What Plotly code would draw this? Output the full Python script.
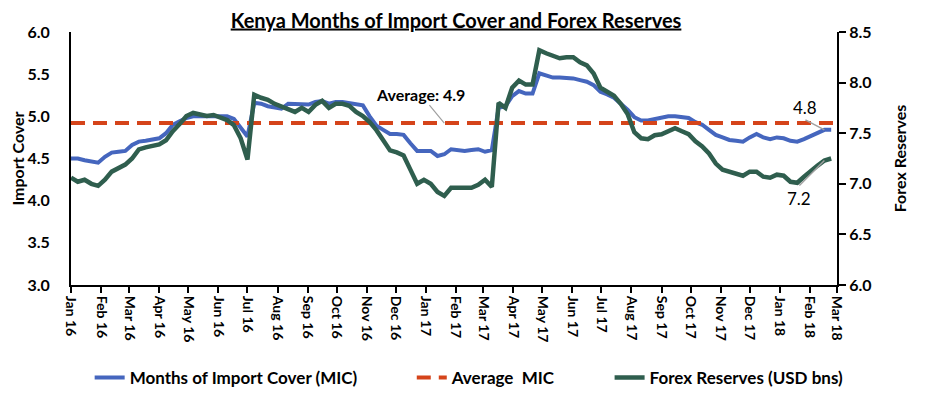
import pandas as pd
import plotly.graph_objects as go

# weekly observation dates
dates = pd.date_range("2016-01-01", periods=113, freq="7D")

mic = [4.50, 4.50, 4.48, 4.46, 4.45, 4.52, 4.57, 4.58, 4.59, 4.66,
       4.70, 4.71, 4.73, 4.74, 4.80, 4.90, 4.94, 4.98, 5.00, 5.00,
       5.00, 5.00, 5.00, 5.00, 4.97, 4.86, 4.76, 5.16, 5.15, 5.12,
       5.10, 5.09, 5.15, 5.15, 5.14, 5.14, 5.17, 5.18, 5.15, 5.17,
       5.17, 5.16, 5.15, 5.13, 5.00, 4.89, 4.84, 4.79, 4.79, 4.78,
       4.68, 4.59, 4.59, 4.59, 4.53, 4.55, 4.61, 4.60, 4.59, 4.60,
       4.61, 4.58, 4.60, 5.10, 5.12, 5.24, 5.30, 5.27, 5.27, 5.51,
       5.49, 5.46, 5.46, 5.46, 5.45, 5.43, 5.41, 5.37, 5.29, 5.26,
       5.22, 5.15, 5.08, 4.99, 4.95, 4.95, 4.97, 4.98, 5.00, 5.00,
       4.99, 4.98, 4.93, 4.90, 4.84, 4.78, 4.75, 4.72, 4.71, 4.70,
       4.75, 4.79, 4.75, 4.73, 4.75, 4.74, 4.71, 4.70, 4.73, 4.77,
       4.81, 4.84, 4.84]

forex = [7.06, 7.02, 7.04, 7.00, 6.98, 7.04, 7.12, 7.15, 7.19, 7.25,
         7.34, 7.36, 7.37, 7.39, 7.43, 7.52, 7.59, 7.67, 7.70, 7.69,
         7.67, 7.68, 7.66, 7.63, 7.58, 7.45, 7.24, 7.88, 7.85, 7.83,
         7.79, 7.76, 7.73, 7.71, 7.75, 7.71, 7.78, 7.82, 7.75, 7.79,
         7.79, 7.77, 7.71, 7.67, 7.61, 7.53, 7.43, 7.33, 7.31, 7.28,
         7.14, 7.00, 7.04, 7.00, 6.92, 6.88, 6.96, 6.96, 6.95, 6.96,
         6.99, 7.04, 6.97, 7.80, 7.75, 7.95, 8.02, 7.98, 7.98, 8.32,
         8.29, 8.26, 8.24, 8.25, 8.25, 8.20, 8.17, 8.09, 7.95, 7.91,
         7.87, 7.79, 7.69, 7.51, 7.45, 7.44, 7.48, 7.49, 7.52, 7.55,
         7.52, 7.49, 7.42, 7.37, 7.30, 7.20, 7.14, 7.12, 7.10, 7.08,
         7.12, 7.12, 7.07, 7.06, 7.09, 7.08, 7.02, 7.01, 7.07, 7.13,
         7.18, 7.23, 7.25]

avg_mic = 4.92
avg_dates = ["2016-01-01", "2018-03-01"]

month_ticks = pd.date_range("2016-01-01", "2018-03-01", freq="MS")
month_labels = [d.strftime("%b %y") for d in month_ticks]

FONT = "Lato"
BLUE = "#4566BE"
RED = "#D5441A"
GREEN = "#2F5E4E"

fig = go.Figure()
fig.add_trace(go.Scatter(x=dates, y=mic, mode="lines",
                         name="Months of Import Cover (MIC)" + "&nbsp;" * 12,
                         line=dict(color=BLUE, width=4)))
fig.add_trace(go.Scatter(x=avg_dates, y=[avg_mic, avg_mic], mode="lines",
                         name="Average&nbsp;&nbsp;MIC" + "&nbsp;" * 12,
                         line=dict(color=RED, width=4, dash="14px,8px")))
fig.add_trace(go.Scatter(x=dates, y=forex, mode="lines", name="Forex Reserves (USD bns)",
                         line=dict(color=GREEN, width=4.5), yaxis="y2"))

# annotations
fig.add_annotation(x=dates[55], y=avg_mic, xref="x", yref="y", text="<b>Average: 4.9</b>",
                   showarrow=True, arrowhead=0, arrowcolor="#A0A0A0", arrowwidth=1.2,
                   ax=-24, ay=-29, font=dict(family=FONT, size=16, color="black"),
                   xanchor="center", yanchor="middle")
fig.add_annotation(x=dates[111], y=mic[111], xref="x", yref="y", text="4.8",
                   showarrow=True, arrowhead=0, arrowcolor="#A0A0A0", arrowwidth=1.5,
                   ax=-19, ay=-10, font=dict(family=FONT, size=17, color="black"),
                   xanchor="center", yanchor="bottom")
fig.add_annotation(x=dates[111], y=forex[111], xref="x", yref="y2", text="7.2",
                   showarrow=True, arrowhead=0, arrowcolor="#A0A0A0", arrowwidth=1.5,
                   ax=-25, ay=25, font=dict(family=FONT, size=17, color="black"),
                   xanchor="center", yanchor="top")

fig.update_layout(
    width=928, height=390,
    margin=dict(l=63, r=99, t=24, b=113),
    paper_bgcolor="white", plot_bgcolor="white",
    font=dict(family=FONT, color="black"),
    title=dict(text="<b><u>Kenya Months of Import Cover and Forex Reserves</u></b>",
               x=0.4828, xanchor="center", xref="container", y=0.9679, yanchor="middle",
               yref="container", font=dict(family=FONT, size=20, color="black")),
    xaxis=dict(range=["2016-01-01", "2018-03-01"], tickvals=month_ticks, ticktext=month_labels,
               tickangle=90, ticks="outside", ticklen=6, tickcolor="black", tickwidth=1.5,
               showline=True, linecolor="black", linewidth=2, showgrid=False, zeroline=False,
               automargin=False,
               tickfont=dict(family=FONT, size=14, color="black", weight="bold")),
    yaxis=dict(range=[3.0, 6.0], dtick=0.5, tickformat=".1f", showline=True, linecolor="black",
               linewidth=2, ticks="", showgrid=False, zeroline=False, automargin=False,
               ticklabelstandoff=16,
               tickfont=dict(family=FONT, size=16, color="black", weight="bold"),
               title=dict(text="<b>Import Cover</b>", font=dict(family=FONT, size=16), standoff=4)),
    yaxis2=dict(range=[6.0, 8.5], dtick=0.5, tickformat=".1f", overlaying="y", side="right",
                showline=True, linecolor="black", linewidth=2, ticks="outside", ticklen=7,
                tickcolor="black", tickwidth=1.5, showgrid=False, zeroline=False, automargin=False,
                tickfont=dict(family=FONT, size=16, color="black", weight="bold"),
                title=dict(text="<b>Forex Reserves</b>", font=dict(family=FONT, size=16), standoff=24)),
    legend=dict(orientation="h", x=0.088, xanchor="left", xref="container",
                y=0.0513, yanchor="middle", yref="container",
                font=dict(family=FONT, size=17, color="black", weight="bold")),
    showlegend=True,
)

fig.write_html("out.html")
